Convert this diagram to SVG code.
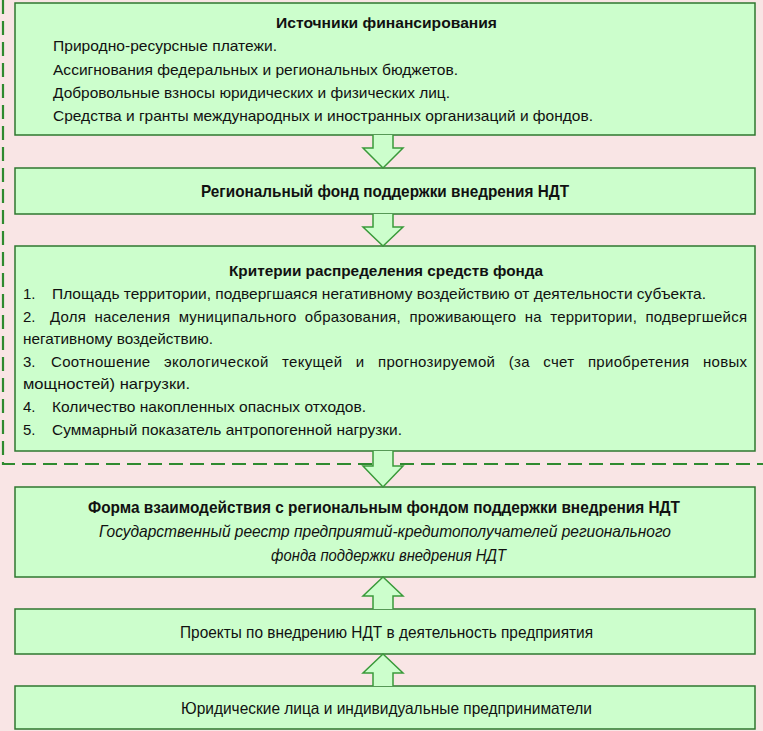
<svg xmlns="http://www.w3.org/2000/svg" width="763" height="731" viewBox="0 0 763 731">
<style>
.bg{fill:#f9e5e5}
.box{fill:#ccfecc;stroke:#2f772f;stroke-width:1.5}
.arr{fill:#ccfecc;stroke:#3a9a3a;stroke-width:1.5;stroke-linejoin:miter}
.dash{fill:none;stroke:#2f8a2f;stroke-width:2.2;stroke-dasharray:14 7}
text{font-family:"Liberation Sans","Arial",sans-serif;font-size:15px;fill:#111}
.b{font-weight:bold}
.c{font-size:16.5px}
.i{font-style:italic}
</style>
<rect class="bg" x="0" y="0" width="763" height="731"/>
<g id="dashed-region">
<path class="dash" d="M3,0 V464 H763"/>
</g>
<g id="n1">
<rect class="box" x="15" y="3" width="740" height="132"/>
<text class="b" x="276" y="28" textLength="221" lengthAdjust="spacingAndGlyphs">Источники финансирования</text>
<text x="53" y="51" textLength="224" lengthAdjust="spacingAndGlyphs">Природно-ресурсные платежи.</text>
<text x="53" y="75" textLength="405" lengthAdjust="spacingAndGlyphs">Ассигнования федеральных и региональных бюджетов.</text>
<text x="53" y="98" textLength="397" lengthAdjust="spacingAndGlyphs">Добровольные взносы юридических и физических лиц.</text>
<text x="53" y="121" textLength="540" lengthAdjust="spacingAndGlyphs">Средства и гранты международных и иностранных организаций и фондов.</text>
</g>
<g id="n2">
<rect class="box" x="15" y="168" width="740" height="46"/>
<text class="b c" x="201" y="197" textLength="368" lengthAdjust="spacingAndGlyphs">Региональный фонд поддержки внедрения НДТ</text>
</g>
<g id="n3">
<rect class="box" x="15" y="246" width="740" height="205"/>
<text class="b" x="229" y="276" textLength="314" lengthAdjust="spacingAndGlyphs">Критерии распределения средств фонда</text>
<text x="23" y="299">1.</text>
<text x="52" y="299" textLength="654" lengthAdjust="spacingAndGlyphs">Площадь территории, подвергшаяся негативному воздействию от деятельности субъекта.</text>
<text x="23" y="322">2.</text>
<text x="50" y="322" word-spacing="4" textLength="697" lengthAdjust="spacing">Доля населения муниципального образования, проживающего на территории, подвергшейся</text>
<text x="23" y="344" textLength="190" lengthAdjust="spacingAndGlyphs">негативному воздействию.</text>
<text x="23" y="367">3.</text>
<text x="51" y="367" word-spacing="9" textLength="696" lengthAdjust="spacing">Соотношение экологической текущей и прогнозируемой (за счет приобретения новых</text>
<text x="23" y="389" textLength="167" lengthAdjust="spacingAndGlyphs">мощностей) нагрузки.</text>
<text x="23" y="412">4.</text>
<text x="52" y="412" textLength="314" lengthAdjust="spacingAndGlyphs">Количество накопленных опасных отходов.</text>
<text x="23" y="435">5.</text>
<text x="52" y="435" textLength="350" lengthAdjust="spacingAndGlyphs">Суммарный показатель антропогенной нагрузки.</text>
</g>
<g id="n4">
<rect class="box" x="15" y="487" width="740" height="90"/>
<text class="b c" x="88" y="513" textLength="592" lengthAdjust="spacingAndGlyphs">Форма взаимодействия с региональным фондом поддержки внедрения НДТ</text>
<text class="i c" x="99" y="537" textLength="572" lengthAdjust="spacingAndGlyphs">Государственный реестр предприятий-кредитополучателей регионального</text>
<text class="i c" x="271" y="561" textLength="235" lengthAdjust="spacingAndGlyphs">фонда поддержки внедрения НДТ</text>
</g>
<g id="n5">
<rect class="box" x="15" y="609" width="740" height="45"/>
<text class="c" x="180" y="638" textLength="413" lengthAdjust="spacingAndGlyphs">Проекты по внедрению НДТ в деятельность предприятия</text>
</g>
<g id="n6">
<rect class="box" x="15" y="686" width="740" height="43"/>
<text class="c" x="181" y="714" textLength="411" lengthAdjust="spacingAndGlyphs">Юридические лица и индивидуальные предприниматели</text>
</g>
<g id="connectors">
<path class="arr" d="M373,135 V148 H363 L383,168 L403,148 H393 V135"/>
<path class="arr" d="M373,214 V227 H363 L383,246 L403,227 H393 V214"/>
<path class="arr" d="M373,451 V466 H363 L383,487 L403,466 H393 V451"/>
<path class="arr" d="M373,609 V596 H363 L383,577 L403,596 H393 V609"/>
<path class="arr" d="M373,686 V673 H363 L383,654 L403,673 H393 V686"/>
</g>
</svg>
